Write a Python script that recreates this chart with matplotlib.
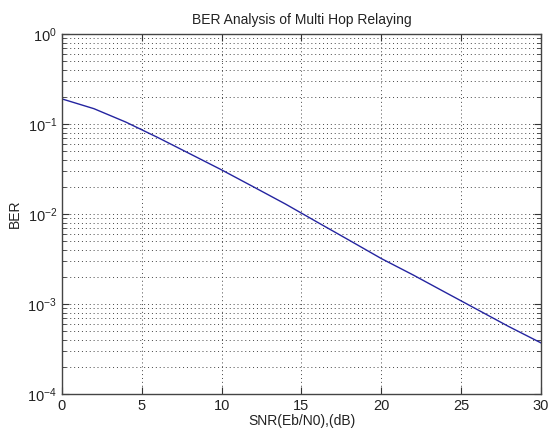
import matplotlib
matplotlib.use('Agg')
import matplotlib.pyplot as plt
import numpy as np
from matplotlib.ticker import LogLocator, NullFormatter

plt.rcParams['font.family'] = ['Liberation Sans', 'DejaVu Sans']
plt.rcParams['mathtext.default'] = 'regular'

# SNR points (dB) and the simulated bit error rate
snr_db = [0, 2, 4, 6, 8, 10, 12, 14, 16, 18, 20, 22, 24, 26, 28, 30]
ber = [0.19, 0.148, 0.105, 0.0708, 0.0468, 0.0309, 0.02, 0.0129, 0.0081,
       0.0051, 0.0032, 0.0021, 0.00135, 0.00087, 0.00056, 0.00037]

fig = plt.figure(figsize=(5.48, 4.37), dpi=100)
ax = fig.add_axes([0.1131, 0.0984, 0.874, 0.8238])

ax.semilogy(snr_db, ber, color='#2424a0', lw=1.0)

ax.set_xlim(0, 30)
ax.set_ylim(1e-4, 1e0)
ax.set_xticks(np.arange(0, 31, 5))
ax.yaxis.set_major_locator(LogLocator(base=10))
ax.yaxis.set_minor_locator(LogLocator(base=10, subs=np.arange(2, 10)))
ax.yaxis.set_minor_formatter(NullFormatter())

# matlab-like box with inward ticks and dotted grid
ax.tick_params(which='both', direction='in', top=True, right=True,
               labelsize=10.5, colors='#333333', labelcolor='#222222')
ax.tick_params(which='major', length=5)
ax.tick_params(which='minor', length=3)
for s in ax.spines.values():
    s.set_color('#444444')
    s.set_linewidth(1.0)
dots = (0, (1, 3))
ax.grid(True, which='major', ls=dots, color='#444444', lw=0.7)
ax.grid(True, which='minor', ls=dots, color='#444444', lw=0.7)

ax.set_title('BER Analysis of Multi Hop Relaying', fontsize=10, color='#222222', pad=7)
ax.set_xlabel('SNR(Eb/N0),(dB)', fontsize=10, color='#222222', labelpad=1)
ax.set_ylabel('BER', fontsize=10, color='#222222', labelpad=4)

fig.savefig('out.png', dpi=100)
